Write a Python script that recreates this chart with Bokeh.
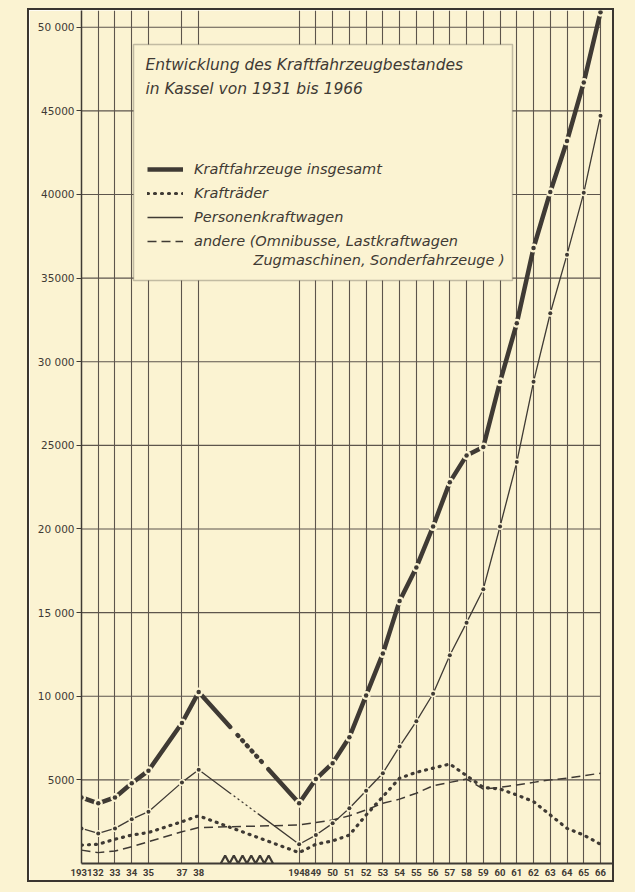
import numpy as np
from bokeh.plotting import figure
from bokeh.models import Range1d, FixedTicker, Legend, LegendItem, Label, BoxAnnotation
from bokeh.embed import file_html
from bokeh.resources import INLINE

# ---------------- data ----------------
years = [1931, 1932, 1933, 1934, 1935, 1937, 1938,
         1948, 1949, 1950, 1951, 1952, 1953, 1954, 1955, 1956, 1957,
         1958, 1959, 1960, 1961, 1962, 1963, 1964, 1965, 1966]
year_labels = ["1931", "32", "33", "34", "35", "37", "38",
               "1948", "49", "50", "51", "52", "53", "54", "55", "56", "57",
               "58", "59", "60", "61", "62", "63", "64", "65", "66"]
kfz_insgesamt = [3950, 3600, 3950, 4800, 5550, 8400, 10250,
                 3600, 5050, 6000, 7550, 10050, 12550, 15700, 17700, 20150, 22800,
                 24400, 24900, 28800, 32300, 36800, 40150, 43200, 46700, 50900]
kraftraeder = [1100, 1150, 1450, 1700, 1850, 2500, 2850,
               650, 1150, 1350, 1700, 2900, 4000, 5100, 5450, 5700, 5950,
               5250, 4550, 4450, 4100, 3700, 2900, 2100, 1700, 1150]
pkw = [2100, 1800, 2100, 2650, 3100, 4850, 5600,
       1150, 1700, 2400, 3300, 4350, 5400, 7000, 8500, 10150, 12450,
       14400, 16400, 20150, 24000, 28800, 32900, 36400, 40100, 44700]
andere = [800, 650, 750, 1000, 1300, 1900, 2150,
          2300, 2450, 2600, 2850, 3200, 3600, 3850, 4200, 4650, 4850,
          5050, 4450, 4550, 4700, 4850, 5000, 5100, 5250, 5400]
y_ticks = [5000, 10000, 15000, 20000, 25000, 30000, 35000, 40000, 45000, 50000]
y_tick_labels = ["5000", "10 000", "15 000", "20 000", "25000",
                 "30 000", "35000", "40000", "45000", "50 000"]

title_lines = ["Entwicklung des Kraftfahrzeugbestandes", "in Kassel von 1931 bis 1966"]
series_names = ["Kraftfahrzeuge insgesamt", "Krafträder", "Personenkraftwagen",
                "andere (Omnibusse, Lastkraftwagen"]
series_name_cont = "Zugmaschinen, Sonderfahrzeuge )"

# ---------------- styling / geometry ----------------
BG = "#fbf3d2"
INK = "#3f3a34"
GRID = "#5d554c"
FONT = "DejaVu Sans"
TICK_FONT = "Roboto"

HOST_LEFT, HOST_TOP, BORDER = 27, 8, 2
W, H = 587, 874
ML, MB = 52, 21
FRAME_W, FRAME_H = W - ML, H - MB
Y_TOP = 51000


def axis_pos(y):
    # broken time axis: 1931-1938 one unit per year, 1939-1947 compressed
    return y - 1931 if y <= 1938 else y - 1948 + 13


xs = [axis_pos(y) for y in years]
LAST = xs[-1]
PX_X = 519.0 / LAST          # pixels per axis unit
PX_Y = FRAME_H / Y_TOP       # pixels per vehicle
X_END = FRAME_W / PX_X

# reference-page pixel -> data helpers (for annotation placement only)
FRAME_LEFT_PAGE = HOST_LEFT + BORDER + ML
FRAME_BOTTOM_PAGE = HOST_TOP + BORDER + FRAME_H


def dx(px):
    return (px - FRAME_LEFT_PAGE) / PX_X


def dy(py):
    return (FRAME_BOTTOM_PAGE - py) / PX_Y


p = figure(width=W, height=H, output_backend="svg", toolbar_location=None,
           x_range=Range1d(0, X_END), y_range=Range1d(0, Y_TOP),
           min_border_left=ML, min_border_right=0, min_border_top=0, min_border_bottom=MB,
           background_fill_color=BG, border_fill_color=BG, outline_line_color=None)
p.styles = {"border": f"{BORDER}px solid #3a3530",
            "margin-left": f"{HOST_LEFT}px", "margin-top": f"{HOST_TOP}px",
            "box-shadow": f"0 0 0 60px {BG}"}

# axes
p.xaxis.ticker = FixedTicker(ticks=xs)
p.xaxis.major_label_overrides = {x: l for x, l in zip(xs, year_labels)}
p.xaxis.major_tick_out = 0
p.xaxis.major_tick_in = 0
p.xaxis.minor_tick_line_color = None
p.xaxis.axis_line_color = INK
p.xaxis.axis_line_width = 2
p.xaxis.major_label_standoff = 5
p.xaxis.major_label_text_font = TICK_FONT
p.xaxis.major_label_text_font_style = "bold"
p.xaxis.major_label_text_font_size = "9.5px"
p.xaxis.major_label_text_color = INK

p.yaxis.ticker = FixedTicker(ticks=y_ticks)
p.yaxis.major_label_overrides = {v: l for v, l in zip(y_ticks, y_tick_labels)}
p.yaxis.major_tick_out = 5
p.yaxis.major_tick_in = 0
p.yaxis.major_tick_line_color = INK
p.yaxis.minor_tick_line_color = None
p.yaxis.axis_line_color = INK
p.yaxis.axis_line_width = 1.5
p.yaxis.major_label_standoff = 2
p.yaxis.major_label_text_font = FONT
p.yaxis.major_label_text_font_size = "10.5px"
p.yaxis.major_label_text_color = INK

# grid: vertical lines at every year, horizontal lines only up to 1966
p.xgrid.ticker = FixedTicker(ticks=xs)
p.xgrid.grid_line_color = GRID
p.xgrid.grid_line_width = 1.1
p.ygrid.grid_line_color = None
p.segment(x0=[xs[0]] * len(y_ticks), x1=[LAST] * len(y_ticks), y0=y_ticks, y1=y_ticks,
          line_color=GRID, line_width=1.1)

# axis break symbol (zigzag) between 1938 and 1948
i38, i48 = years.index(1938), years.index(1948)
zz_x = np.linspace(xs[i38] + 0.22 * (xs[i48] - xs[i38]), xs[i38] + 0.74 * (xs[i48] - xs[i38]), 13)
zz_y = np.where(np.arange(13) % 2 == 0, 0, 480)
p.line(zz_x, zz_y, line_color=INK, line_width=2.2)

n1 = i38 + 1

# Andere (dashed) - continuous
r_and = p.line(xs, andere, line_color=INK, line_width=1.5, line_dash="9 5")

# Kraftraeder (dotted) - continuous
r_kr = p.line(xs, kraftraeder, line_color=INK, line_width=3.2, line_dash="1 6", line_cap="round")

# Personenkraftwagen (thin line with dots)
r_pkw = p.line(xs[:n1], pkw[:n1], line_color=INK, line_width=1.3)
p.line(xs[n1:], pkw[n1:], line_color=INK, line_width=1.3)
p.line([xs[i38], xs[i48]], [pkw[i38], pkw[i48]], line_color=INK, line_width=1.3,
       line_cap="round", line_dash="40 4 1 4 1 4 1 4 1 4 1 4 1 4 300")
p.scatter(xs, pkw, size=7, fill_color=BG, line_color=None)
p.scatter(xs, pkw, size=4, fill_color=INK, line_color=None)

# Kraftfahrzeuge insgesamt (thick line)
r_tot = p.line(xs[:n1], kfz_insgesamt[:n1], line_color=INK, line_width=4.5)
p.line(xs[n1:], kfz_insgesamt[n1:], line_color=INK, line_width=4.5)
p.line([xs[i38], xs[i48]], [kfz_insgesamt[i38], kfz_insgesamt[i48]], line_color=INK,
       line_width=4.5, line_cap="round",
       line_dash="47 11 1 6 1 6 1 6 1 6 1 6 1 10 300")
p.scatter(xs, kfz_insgesamt, size=9, fill_color=BG, line_color=None)
p.scatter(xs, kfz_insgesamt, size=4.5, fill_color=INK, line_color=None)

# legend box
box = BoxAnnotation(left=dx(133), right=dx(512), top=dy(44), bottom=dy(280),
                    fill_color=BG, fill_alpha=1.0, line_color=INK, line_width=1.5)
p.add_layout(box)

for i, t in enumerate(title_lines):
    p.add_layout(Label(x=dx(145), y=dy(64 + 24 * i), text=t, text_font=FONT,
                       text_font_style="italic", text_font_size="15.5px",
                       text_color=INK, text_baseline="middle"))

legend = Legend(items=[LegendItem(label=series_names[0], renderers=[r_tot]),
                       LegendItem(label=series_names[1], renderers=[r_kr]),
                       LegendItem(label=series_names[2], renderers=[r_pkw]),
                       LegendItem(label=series_names[3], renderers=[r_and])],
                location=(147 - FRAME_LEFT_PAGE, FRAME_BOTTOM_PAGE - 251),
                orientation="vertical", glyph_width=36, glyph_height=20, label_height=20,
                label_standoff=11, spacing=4, padding=0, margin=0,
                background_fill_alpha=0, border_line_alpha=0,
                label_text_font=FONT, label_text_font_style="italic",
                label_text_font_size="14.5px", label_text_color=INK)
p.add_layout(legend)
p.add_layout(Label(x=dx(253), y=dy(259), text=series_name_cont, text_font=FONT,
                   text_font_style="italic", text_font_size="14.5px",
                   text_color=INK, text_baseline="middle"))

open("out.html", "w").write(file_html(p, INLINE))
